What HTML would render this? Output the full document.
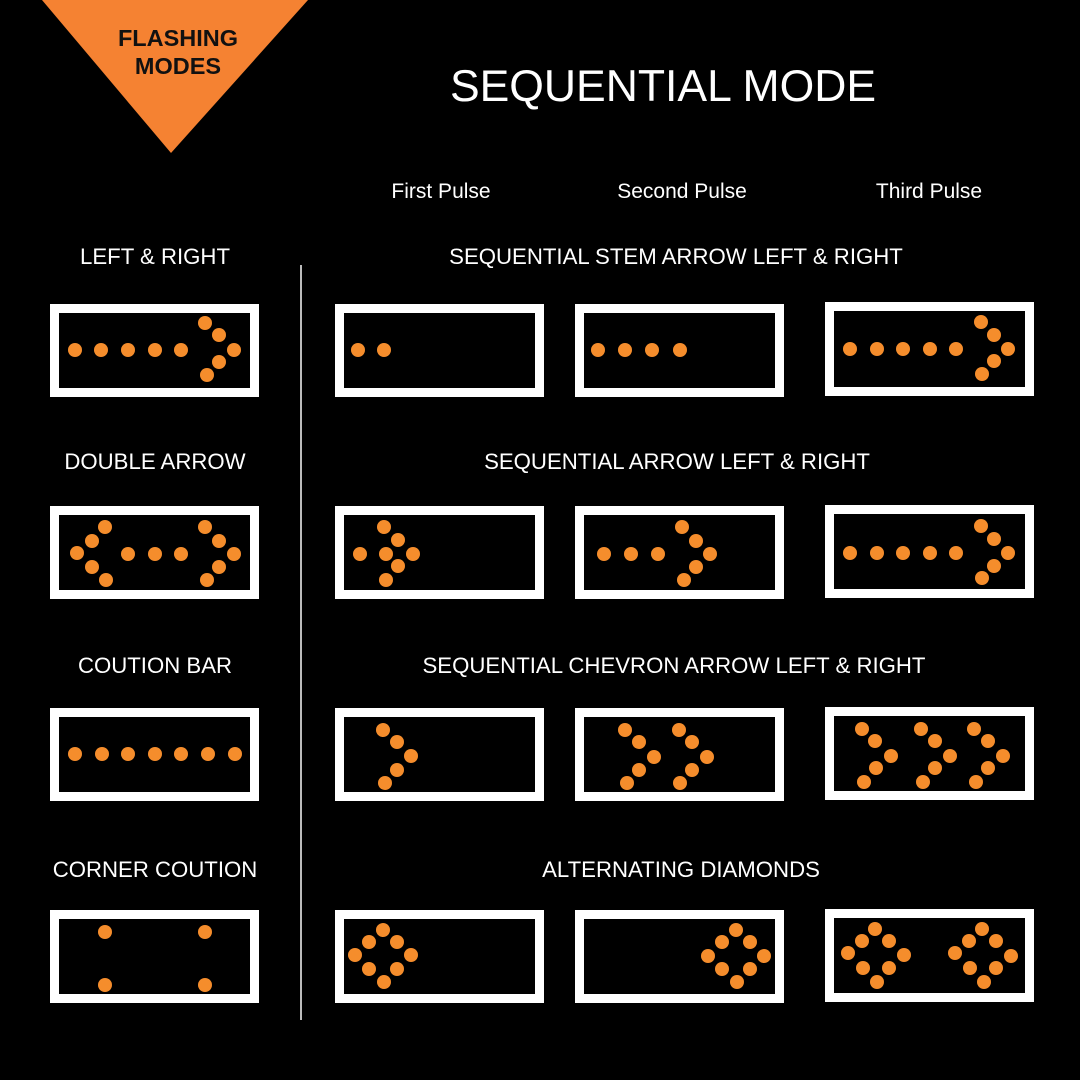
<!DOCTYPE html>
<html><head><meta charset="utf-8"><style>
html,body{margin:0;padding:0;background:#000;width:1080px;height:1080px;overflow:hidden}
</style></head><body>
<svg width="1080" height="1080" viewBox="0 0 1080 1080" xmlns="http://www.w3.org/2000/svg">
<rect width="1080" height="1080" fill="#000"/>
<polygon points="42,0 308,0 171,153" fill="#f58232"/>
<g font-family="Liberation Sans, Arial, sans-serif" font-weight="bold" font-size="23.5" fill="#111" text-anchor="middle">
<text x="178" y="46">FLASHING</text><text x="178" y="74">MODES</text></g>
<g font-family="Liberation Sans, Arial, sans-serif" fill="#fff" text-anchor="middle">
<text x="663" y="101" font-size="44.5">SEQUENTIAL MODE</text>
<g font-size="21"><text x="441" y="198">First Pulse</text><text x="682" y="198">Second Pulse</text><text x="929" y="198">Third Pulse</text></g>
<g font-size="22.2">
<text x="155" y="264">LEFT &amp; RIGHT</text>
<text x="676" y="264">SEQUENTIAL STEM ARROW LEFT &amp; RIGHT</text>
<text x="155" y="469">DOUBLE ARROW</text>
<text x="677" y="469">SEQUENTIAL ARROW LEFT &amp; RIGHT</text>
<text x="155" y="673">COUTION BAR</text>
<text x="674" y="673">SEQUENTIAL CHEVRON ARROW LEFT &amp; RIGHT</text>
<text x="155" y="877">CORNER COUTION</text>
<text x="681" y="877">ALTERNATING DIAMONDS</text>
</g></g>
<line x1="301" y1="265" x2="301" y2="1020" stroke="#bbb" stroke-width="2"/>
<g fill="none" stroke="#fff" stroke-width="9">
<rect x="54.5" y="308.5" width="200" height="84"/>
<rect x="339.5" y="308.5" width="200" height="84"/>
<rect x="579.5" y="308.5" width="200" height="84"/>
<rect x="829.5" y="306.5" width="200" height="85"/>
<rect x="54.5" y="510.5" width="200" height="84"/>
<rect x="339.5" y="510.5" width="200" height="84"/>
<rect x="579.5" y="510.5" width="200" height="84"/>
<rect x="829.5" y="509.5" width="200" height="84"/>
<rect x="54.5" y="712.5" width="200" height="84"/>
<rect x="339.5" y="712.5" width="200" height="84"/>
<rect x="579.5" y="712.5" width="200" height="84"/>
<rect x="829.5" y="711.5" width="200" height="84"/>
<rect x="54.5" y="914.5" width="200" height="84"/>
<rect x="339.5" y="914.5" width="200" height="84"/>
<rect x="579.5" y="914.5" width="200" height="84"/>
<rect x="829.5" y="913.5" width="200" height="84"/>
</g>
<g fill="#f58d2c">
<circle cx="75" cy="350" r="7"/><circle cx="101" cy="350" r="7"/><circle cx="128" cy="350" r="7"/><circle cx="155" cy="350" r="7"/><circle cx="181" cy="350" r="7"/>
<circle cx="205" cy="323" r="7"/><circle cx="219" cy="335" r="7"/><circle cx="234" cy="350" r="7"/><circle cx="219" cy="362" r="7"/><circle cx="207" cy="375" r="7"/>
<circle cx="358" cy="350" r="7"/><circle cx="384" cy="350" r="7"/>
<circle cx="598" cy="350" r="7"/><circle cx="625" cy="350" r="7"/><circle cx="652" cy="350" r="7"/><circle cx="680" cy="350" r="7"/>
<circle cx="850" cy="349" r="7"/><circle cx="877" cy="349" r="7"/><circle cx="903" cy="349" r="7"/><circle cx="930" cy="349" r="7"/><circle cx="956" cy="349" r="7"/>
<circle cx="981" cy="322" r="7"/><circle cx="994" cy="335" r="7"/><circle cx="1008" cy="349" r="7"/><circle cx="994" cy="361" r="7"/><circle cx="982" cy="374" r="7"/>
<circle cx="105" cy="527" r="7"/><circle cx="92" cy="541" r="7"/><circle cx="77" cy="553" r="7"/><circle cx="92" cy="567" r="7"/><circle cx="106" cy="580" r="7"/>
<circle cx="128" cy="554" r="7"/><circle cx="155" cy="554" r="7"/><circle cx="181" cy="554" r="7"/>
<circle cx="205" cy="527" r="7"/><circle cx="219" cy="541" r="7"/><circle cx="234" cy="554" r="7"/><circle cx="219" cy="567" r="7"/><circle cx="207" cy="580" r="7"/>
<circle cx="360" cy="554" r="7"/><circle cx="384" cy="527" r="7"/><circle cx="398" cy="540" r="7"/><circle cx="386" cy="554" r="7"/><circle cx="413" cy="554" r="7"/><circle cx="398" cy="566" r="7"/><circle cx="386" cy="580" r="7"/>
<circle cx="604" cy="554" r="7"/><circle cx="631" cy="554" r="7"/><circle cx="658" cy="554" r="7"/>
<circle cx="682" cy="527" r="7"/><circle cx="696" cy="541" r="7"/><circle cx="710" cy="554" r="7"/><circle cx="696" cy="567" r="7"/><circle cx="684" cy="580" r="7"/>
<circle cx="850" cy="553" r="7"/><circle cx="877" cy="553" r="7"/><circle cx="903" cy="553" r="7"/><circle cx="930" cy="553" r="7"/><circle cx="956" cy="553" r="7"/>
<circle cx="981" cy="526" r="7"/><circle cx="994" cy="539" r="7"/><circle cx="1008" cy="553" r="7"/><circle cx="994" cy="566" r="7"/><circle cx="982" cy="578" r="7"/>
<circle cx="75" cy="754" r="7"/><circle cx="102" cy="754" r="7"/><circle cx="128" cy="754" r="7"/><circle cx="155" cy="754" r="7"/><circle cx="181" cy="754" r="7"/><circle cx="208" cy="754" r="7"/><circle cx="235" cy="754" r="7"/>
<circle cx="383" cy="730" r="7"/><circle cx="397" cy="742" r="7"/><circle cx="411" cy="756" r="7"/><circle cx="397" cy="770" r="7"/><circle cx="385" cy="783" r="7"/>
<circle cx="625" cy="730" r="7"/><circle cx="639" cy="742" r="7"/><circle cx="654" cy="757" r="7"/><circle cx="639" cy="770" r="7"/><circle cx="627" cy="783" r="7"/>
<circle cx="679" cy="730" r="7"/><circle cx="692" cy="742" r="7"/><circle cx="707" cy="757" r="7"/><circle cx="692" cy="770" r="7"/><circle cx="680" cy="783" r="7"/>
<circle cx="862" cy="729" r="7"/><circle cx="875" cy="741" r="7"/><circle cx="891" cy="756" r="7"/><circle cx="876" cy="768" r="7"/><circle cx="864" cy="782" r="7"/>
<circle cx="921" cy="729" r="7"/><circle cx="935" cy="741" r="7"/><circle cx="950" cy="756" r="7"/><circle cx="935" cy="768" r="7"/><circle cx="923" cy="782" r="7"/>
<circle cx="974" cy="729" r="7"/><circle cx="988" cy="741" r="7"/><circle cx="1003" cy="756" r="7"/><circle cx="988" cy="768" r="7"/><circle cx="976" cy="782" r="7"/>
<circle cx="105" cy="932" r="7"/><circle cx="205" cy="932" r="7"/><circle cx="105" cy="985" r="7"/><circle cx="205" cy="985" r="7"/>
<circle cx="383" cy="930" r="7"/><circle cx="369" cy="942" r="7"/><circle cx="397" cy="942" r="7"/><circle cx="355" cy="955" r="7"/><circle cx="411" cy="955" r="7"/><circle cx="369" cy="969" r="7"/><circle cx="397" cy="969" r="7"/><circle cx="384" cy="982" r="7"/>
<circle cx="736" cy="930" r="7"/><circle cx="722" cy="942" r="7"/><circle cx="750" cy="942" r="7"/><circle cx="708" cy="956" r="7"/><circle cx="764" cy="956" r="7"/><circle cx="722" cy="969" r="7"/><circle cx="750" cy="969" r="7"/><circle cx="737" cy="982" r="7"/>
<circle cx="875" cy="929" r="7"/><circle cx="862" cy="941" r="7"/><circle cx="889" cy="941" r="7"/><circle cx="848" cy="953" r="7"/><circle cx="904" cy="955" r="7"/><circle cx="863" cy="968" r="7"/><circle cx="889" cy="968" r="7"/><circle cx="877" cy="982" r="7"/>
<circle cx="982" cy="929" r="7"/><circle cx="969" cy="941" r="7"/><circle cx="996" cy="941" r="7"/><circle cx="955" cy="953" r="7"/><circle cx="1011" cy="956" r="7"/><circle cx="970" cy="968" r="7"/><circle cx="996" cy="968" r="7"/><circle cx="984" cy="982" r="7"/>
</g>
</svg>
</body></html>
